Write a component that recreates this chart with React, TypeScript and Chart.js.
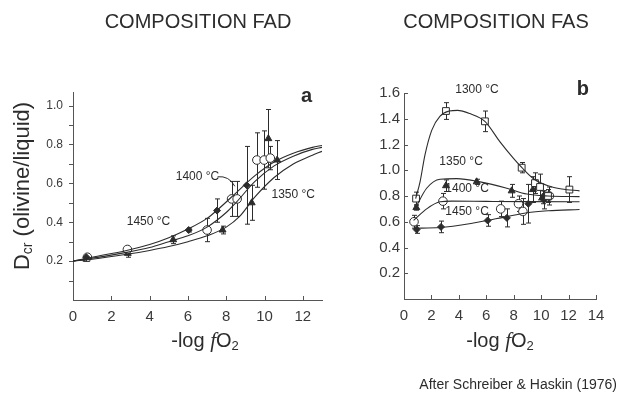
import React, { useEffect, useRef } from "react";
import { Chart, registerables } from "chart.js";

Chart.register(...registerables);

const SANS = '"Liberation Sans", Arial, Helvetica, sans-serif';
const SERIF = '"Liberation Serif", "DejaVu Serif", serif';
const INK = "#2c2c2c";
const AXIS = "#555555";

// ---------------- Panel a : composition FAD ----------------
const A_X_TICKS = [0, 2, 4, 6, 8, 10, 12];
const A_Y_TICKS = [0.1, 0.2, 0.3, 0.4, 0.5, 0.6, 0.7, 0.8, 0.9, 1.0];
const A_Y_LABELS = [0.2, 0.4, 0.6, 0.8, 1.0];

const A_1450_X = [0.7, 6.04, 7.52, 9.07];
const A_1450_Y = [0.22, 0.36, 0.46, 0.59];
const A_1450_ERR = [0.01, 0.01, 0.06, 0.2];

const A_1400_X = [0.75, 2.84, 7.0, 8.28, 8.57, 9.6, 9.98, 10.3];
const A_1400_Y = [0.22, 0.26, 0.36, 0.52, 0.52, 0.72, 0.72, 0.73];
const A_1400_ERR = [0.01, 0.01, 0.06, 0.09, 0.09, 0.14, 0.15, 0.06];

const A_1350_X = [0.7, 2.86, 5.23, 7.81, 9.33, 10.2, 10.66];
const A_1350_Y = [0.21, 0.24, 0.31, 0.36, 0.5, 0.83, 0.72];
const A_1350_ERR = [0.01, 0.02, 0.02, 0.02, 0.09, 0.15, 0.1];

const A_CURVE_1450_X = [0, 1, 2.8, 4, 5, 6, 7, 7.5, 8.5, 9.5, 10.5, 11.5, 12.5, 13];
const A_CURVE_1450_Y = [0.2, 0.22, 0.255, 0.285, 0.32, 0.365, 0.42, 0.46, 0.55, 0.64, 0.71, 0.755, 0.785, 0.795];
const A_CURVE_1400_X = [0, 1, 2.8, 4, 5, 6, 7, 8, 8.5, 9.5, 10.5, 11.5, 12.5, 13];
const A_CURVE_1400_Y = [0.2, 0.215, 0.245, 0.27, 0.3, 0.33, 0.375, 0.45, 0.5, 0.61, 0.69, 0.74, 0.775, 0.785];
const A_CURVE_1350_X = [0, 1, 2.8, 4, 5, 6, 7, 8, 8.7, 9.5, 10.5, 11.5, 12.5, 13];
const A_CURVE_1350_Y = [0.2, 0.21, 0.235, 0.255, 0.275, 0.3, 0.33, 0.375, 0.43, 0.53, 0.63, 0.7, 0.745, 0.765];

// ---------------- Panel b : composition FAS ----------------
const B_X_TICKS = [0, 2, 4, 6, 8, 10, 12, 14];
const B_Y_TICKS = [0.2, 0.4, 0.6, 0.8, 1.0, 1.2, 1.4, 1.6];

const B_1300_X = [0.88, 3.06, 5.9, 8.58, 9.55, 9.92, 10.5, 12.06];
const B_1300_Y = [0.78, 1.46, 1.38, 1.02, 0.9, 0.87, 0.8, 0.85];
const B_1300_ERR = [0.05, 0.065, 0.08, 0.04, 0.08, 0.1, 0.05, 0.1];

const B_1350_X = [0.9, 3.06, 5.3, 7.85, 9.4, 10.1];
const B_1350_Y = [0.71, 0.88, 0.91, 0.84, 0.85, 0.79];
const B_1350_ERR = [0.02, 0.045, 0.02, 0.05, 0.1, 0.05];

const B_1400_X = [0.73, 2.84, 7.05, 8.35, 8.67, 10.6];
const B_1400_Y = [0.6, 0.76, 0.7, 0.74, 0.68, 0.8];
const B_1400_ERR = [0.05, 0.06, 0.06, 0.06, 0.1, 0.07];

const B_1450_X = [0.92, 2.7, 6.1, 7.5, 9.07, 10.2];
const B_1450_Y = [0.54, 0.56, 0.61, 0.63, 0.74, 0.77];
const B_1450_ERR = [0.03, 0.045, 0.045, 0.07, 0.15, 0.07];

const B_CURVE_1300_X = [0.85, 1.17, 1.53, 2.02, 2.63, 3.3, 3.9, 4.8, 5.9, 7.0, 8.0, 8.6, 9.5, 10.5, 11.5, 12.8];
const B_CURVE_1300_Y = [0.78, 0.91, 1.12, 1.31, 1.42, 1.46, 1.465, 1.44, 1.38, 1.22, 1.09, 1.02, 0.93, 0.88, 0.855, 0.84];
const B_CURVE_1350_X = [0.85, 1.65, 2.63, 3.85, 5.55, 7.5, 8.96, 10.5, 12.8];
const B_CURVE_1350_Y = [0.71, 0.86, 0.93, 0.935, 0.91, 0.86, 0.815, 0.8, 0.795];
const B_CURVE_1400_X = [0.7, 1.65, 2.63, 3.5, 6, 9, 12.8];
const B_CURVE_1400_Y = [0.61, 0.7, 0.755, 0.76, 0.758, 0.756, 0.755];
const B_CURVE_1450_X = [0.7, 2.63, 5.06, 7.5, 8.96, 10.5, 12.8];
const B_CURVE_1450_Y = [0.55, 0.555, 0.59, 0.64, 0.67, 0.685, 0.695];

// ---------------- helpers ----------------
const pts = (xs: number[], ys: number[]) => xs.map((x, i) => ({ x, y: ys[i] }));

const curve = (xs: number[], ys: number[]) => ({
  data: pts(xs, ys),
  showLine: true,
  pointRadius: 0,
  borderColor: INK,
  borderWidth: 1.1,
  cubicInterpolationMode: "monotone",
  fill: false,
});

type Marker = "openCircle" | "triangle" | "diamond" | "openSquare";
const markers = (xs: number[], ys: number[], errs: number[], kind: Marker) => {
  const base: any = {
    data: pts(xs, ys),
    errors: errs,
    showLine: false,
    borderColor: INK,
    borderWidth: 1,
  };
  if (kind === "openCircle") return { ...base, pointStyle: "circle", pointRadius: 4.3, backgroundColor: "#ffffff" };
  if (kind === "openSquare") return { ...base, pointStyle: "rect", pointRadius: 4.8, backgroundColor: "#ffffff" };
  if (kind === "triangle") return { ...base, pointStyle: "triangle", pointRadius: 4, backgroundColor: INK };
  return { ...base, pointStyle: "rectRot", pointRadius: 3.5, backgroundColor: INK };
};

type Seg = { text: string; font: string; dy?: number };
function drawRich(ctx: CanvasRenderingContext2D, segs: Seg[], x: number, y: number, align: "left" | "center" | "right", rotate = 0) {
  ctx.save();
  ctx.translate(x, y);
  if (rotate) ctx.rotate(rotate);
  let total = 0;
  const widths = segs.map((s) => {
    ctx.font = s.font;
    const w = ctx.measureText(s.text).width;
    total += w;
    return w;
  });
  let cx = align === "center" ? -total / 2 : align === "right" ? -total : 0;
  ctx.textBaseline = "middle";
  ctx.textAlign = "left";
  ctx.fillStyle = INK;
  segs.forEach((s, i) => {
    ctx.font = s.font;
    ctx.fillText(s.text, cx, s.dy || 0);
    cx += widths[i];
  });
  ctx.restore();
}

const errorBars = {
  id: "errorBars",
  beforeDatasetsDraw(chart: any) {
    const { ctx } = chart;
    const xs = chart.scales.x;
    const ys = chart.scales.y;
    ctx.save();
    ctx.strokeStyle = INK;
    ctx.lineWidth = 1;
    chart.data.datasets.forEach((ds: any) => {
      if (!ds.errors) return;
      ds.data.forEach((p: any, i: number) => {
        const e = ds.errors[i];
        if (!e) return;
        const px = Math.round(xs.getPixelForValue(p.x)) + 0.5;
        const y1 = ys.getPixelForValue(p.y + e);
        const y2 = ys.getPixelForValue(p.y - e);
        ctx.beginPath();
        ctx.moveTo(px, y1);
        ctx.lineTo(px, y2);
        ctx.moveTo(px - 2.5, y1);
        ctx.lineTo(px + 2.5, y1);
        ctx.moveTo(px - 2.5, y2);
        ctx.lineTo(px + 2.5, y2);
        ctx.stroke();
      });
    });
    ctx.restore();
  },
};

function tickMarks(xTicks: number[], yTicks: number[], yOutside: boolean) {
  return {
    id: "tickMarks",
    afterDraw(chart: any) {
      const { ctx, chartArea } = chart;
      const xs = chart.scales.x;
      const ys = chart.scales.y;
      ctx.save();
      ctx.strokeStyle = AXIS;
      ctx.lineWidth = 1;
      ctx.beginPath();
      xTicks.forEach((v) => {
        const px = Math.round(xs.getPixelForValue(v)) + 0.5;
        ctx.moveTo(px, chartArea.bottom);
        ctx.lineTo(px, chartArea.bottom - 4);
      });
      yTicks.forEach((v) => {
        const py = Math.round(ys.getPixelForValue(v)) + 0.5;
        ctx.moveTo(chartArea.left, py);
        ctx.lineTo(yOutside ? chartArea.left - 4 : chartArea.left + 4, py);
      });
      ctx.stroke();
      ctx.restore();
    },
  };
}

const xLabelSegs: Seg[] = [
  { text: "-log ", font: `20px ${SANS}` },
  { text: "f", font: `italic 21px ${SERIF}` },
  { text: "O", font: `20px ${SANS}` },
  { text: "2", font: `13px ${SANS}`, dy: 5 },
];

function axisOpts(min: number, max: number, ticks: number[], fontSize: number, padding: number, fmt: (v: number) => string, fit: any) {
  return {
    type: "linear",
    min,
    max,
    grid: { display: true, drawOnChartArea: false, drawTicks: false },
    border: { display: true, color: AXIS, width: 1 },
    ticks: {
      autoSkip: false,
      maxRotation: 0,
      padding,
      color: "#3a3a3a",
      font: { family: SANS, size: fontSize },
      callback: (v: any) => fmt(Number(v)),
    },
    afterBuildTicks: (s: any) => {
      s.ticks = ticks.map((value) => ({ value }));
    },
    afterFit: fit,
  };
}

function leftConfig(): any {
  const annot = {
    id: "annotA",
    afterDraw(chart: any) {
      const { ctx } = chart;
      const xs = chart.scales.x;
      const ys = chart.scales.y;
      const P = (x: number, y: number) => [xs.getPixelForValue(x), ys.getPixelForValue(y)];
      drawRich(ctx, [{ text: "COMPOSITION FAD", font: `20px ${SANS}` }], 198, 22, "center");
      drawRich(ctx, xLabelSegs, 205, 341, "center");
      drawRich(
        ctx,
        [
          { text: "D", font: `22px ${SANS}` },
          { text: "cr", font: `14px ${SANS}`, dy: 5 },
          { text: " (olivine/liquid)", font: `22px ${SANS}` },
        ],
        23,
        186,
        "center",
        -Math.PI / 2
      );
      const lab = [
        { t: "1450 °C", x: 3.94, y: 0.404 },
        { t: "1400 °C", x: 6.5, y: 0.634 },
        { t: "1350 °C", x: 11.5, y: 0.54 },
      ];
      lab.forEach((l) => {
        const [px, py] = P(l.x, l.y);
        drawRich(ctx, [{ text: l.t, font: `12px ${SANS}` }], px, py, "center");
      });
      const [a, b] = P(12.2, 1.045);
      drawRich(ctx, [{ text: "a", font: `bold 20px ${SANS}` }], a, b, "center");
      // leader for 1400 °C
      const [l1x, l1y] = P(7.55, 0.634);
      const [c1x, c1y] = P(8.15, 0.64);
      const [l2x, l2y] = P(8.45, 0.585);
      ctx.save();
      ctx.strokeStyle = INK;
      ctx.lineWidth = 1;
      ctx.beginPath();
      ctx.moveTo(l1x, l1y);
      ctx.quadraticCurveTo(c1x, c1y, l2x, l2y);
      ctx.stroke();
      ctx.restore();
    },
  };
  return {
    type: "scatter",
    data: {
      datasets: [
        curve(A_CURVE_1450_X, A_CURVE_1450_Y),
        curve(A_CURVE_1400_X, A_CURVE_1400_Y),
        curve(A_CURVE_1350_X, A_CURVE_1350_Y),
        markers(A_1450_X, A_1450_Y, A_1450_ERR, "diamond"),
        markers(A_1400_X, A_1400_Y, A_1400_ERR, "openCircle"),
        markers(A_1350_X, A_1350_Y, A_1350_ERR, "triangle"),
      ],
    },
    options: {
      responsive: false,
      animation: false,
      devicePixelRatio: 1,
      events: [],
      layout: { padding: { left: 0, top: 92, right: 299, bottom: 0 } },
      plugins: { legend: { display: false }, tooltip: { enabled: false }, title: { display: false } },
      scales: {
        x: axisOpts(0, 13, A_X_TICKS, 15, 8, (v) => String(v), (s: any) => { s.height = 100; }),
        y: axisOpts(
          0,
          1.07,
          A_Y_TICKS,
          12,
          10,
          (v) => (A_Y_LABELS.some((l) => Math.abs(l - v) < 1e-6) ? v.toFixed(1) : ""),
          (s: any) => { s.width = 73; }
        ),
      },
    },
    plugins: [errorBars, tickMarks(A_X_TICKS, A_Y_TICKS, true), annot],
  };
}

function rightConfig(): any {
  const annot = {
    id: "annotB",
    afterDraw(chart: any) {
      const { ctx } = chart;
      const xs = chart.scales.x;
      const ys = chart.scales.y;
      const P = (x: number, y: number) => [xs.getPixelForValue(x), ys.getPixelForValue(y)];
      drawRich(ctx, [{ text: "COMPOSITION FAS", font: `20px ${SANS}` }], 496, 22, "center");
      drawRich(ctx, xLabelSegs, 500, 341, "center");
      const lab = [
        { t: "1300 °C", x: 5.32, y: 1.623 },
        { t: "1350 °C", x: 4.16, y: 1.066 },
        { t: "1400 °C", x: 4.6, y: 0.854 },
        { t: "1450 °C", x: 4.6, y: 0.678 },
      ];
      lab.forEach((l) => {
        const [px, py] = P(l.x, l.y);
        drawRich(ctx, [{ text: l.t, font: `12px ${SANS}` }], px, py, "center");
      });
      const [a, b] = P(13.05, 1.625);
      drawRich(ctx, [{ text: "b", font: `bold 20px ${SANS}` }], a, b, "center");
      drawRich(ctx, [{ text: "After Schreiber & Haskin (1976)", font: `14px ${SANS}` }], 617, 385, "right");
    },
  };
  return {
    type: "scatter",
    data: {
      datasets: [
        curve(B_CURVE_1300_X, B_CURVE_1300_Y),
        curve(B_CURVE_1350_X, B_CURVE_1350_Y),
        curve(B_CURVE_1400_X, B_CURVE_1400_Y),
        curve(B_CURVE_1450_X, B_CURVE_1450_Y),
        markers(B_1300_X, B_1300_Y, B_1300_ERR, "openSquare"),
        markers(B_1350_X, B_1350_Y, B_1350_ERR, "triangle"),
        markers(B_1400_X, B_1400_Y, B_1400_ERR, "openCircle"),
        markers(B_1450_X, B_1450_Y, B_1450_ERR, "diamond"),
      ],
    },
    options: {
      responsive: false,
      animation: false,
      devicePixelRatio: 1,
      events: [],
      layout: { padding: { left: 344, top: 93, right: 25, bottom: 0 } },
      plugins: { legend: { display: false }, tooltip: { enabled: false }, title: { display: false } },
      scales: {
        x: axisOpts(0, 14, B_X_TICKS, 15, 8, (v) => String(v), (s: any) => { s.height = 101; }),
        y: axisOpts(0, 1.6, B_Y_TICKS, 15, 4, (v) => v.toFixed(1), (s: any) => { s.width = 60; }),
      },
    },
    plugins: [errorBars, tickMarks(B_X_TICKS, B_Y_TICKS, false), annot],
  };
}

export default function App() {
  const leftRef = useRef<HTMLCanvasElement>(null);
  const rightRef = useRef<HTMLCanvasElement>(null);
  useEffect(() => {
    const a = new Chart(leftRef.current!, leftConfig());
    const b = new Chart(rightRef.current!, rightConfig());
    return () => {
      a.destroy();
      b.destroy();
    };
  }, []);
  return (
    <div style={{ position: "absolute", left: 0, top: 0, width: 621, height: 400, background: "#ffffff" }}>
      <canvas ref={leftRef} width={621} height={400} style={{ position: "absolute", left: 0, top: 0 }} />
      <canvas ref={rightRef} width={621} height={400} style={{ position: "absolute", left: 0, top: 0 }} />
    </div>
  );
}
